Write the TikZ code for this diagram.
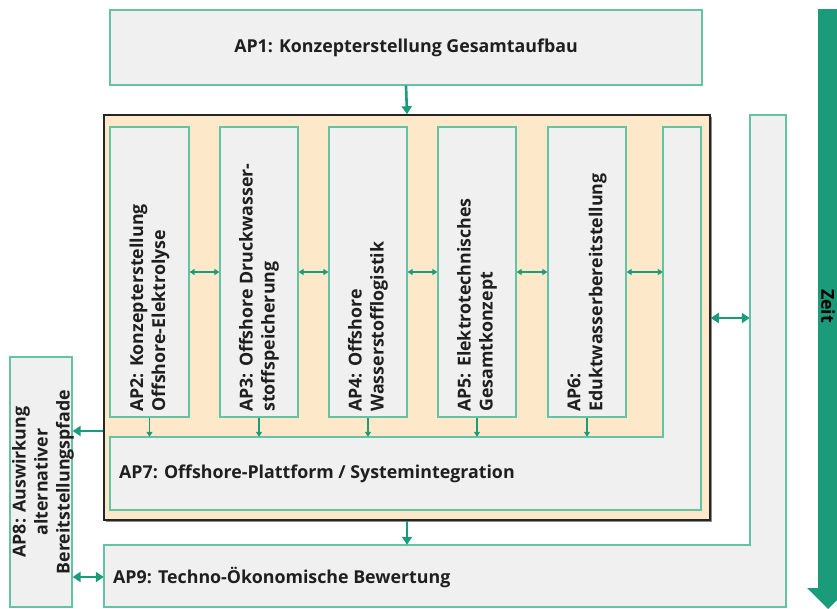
\documentclass[tikz,border=0pt]{standalone}
\usepackage{fontspec}
\setmainfont{Open Sans}
\usetikzlibrary{arrows.meta}
\definecolor{teal1}{RGB}{26,155,122}
\definecolor{bord}{RGB}{100,195,165}
\definecolor{boxfill}{RGB}{240,240,240}
\definecolor{orng}{RGB}{253,232,201}
\tikzset{
  apbox/.style={draw=bord, fill=boxfill, line width=1.3pt, inner sep=0pt},
  lbl/.style={font=\fontsize{17.8}{22}\selectfont\bfseries, text=black!88, inner sep=0pt},
  bigarr/.style={draw=teal1, line width=2.6pt, -{Triangle[width=10pt,length=8pt]}},
  bigdarr/.style={draw=teal1, line width=2.6pt, {Triangle[width=10pt,length=8pt]}-{Triangle[width=10pt,length=8pt]}},
  smallarr/.style={draw=teal1, line width=1.2pt, -{Triangle[width=6pt,length=5pt]}},
  smalldarr/.style={draw=teal1, line width=1.2pt, {Triangle[width=6pt,length=5pt]}-{Triangle[width=6pt,length=5pt]}},
}
\begin{document}
\begin{tikzpicture}[x=1pt,y=-1pt]
\useasboundingbox (0,0) rectangle (837,608);
% AP1
\node[apbox, minimum width=592, minimum height=75] (ap1) at (406,47.5) {};
\node[lbl] (t1) at (406,48) {AP1: Konzepterstellung Gesamtaufbau};
% orange frame
\fill[black!45] (106,117) rectangle (712,522);
\node[draw=black!85, fill=orng, line width=1.5pt, minimum width=606, minimum height=405, inner sep=0pt] (frame) at (407,317.5) {};
% AP2..AP6
\node[apbox, minimum width=79, minimum height=290] (ap2) at (149.5,272) {};
\node[apbox, minimum width=78, minimum height=290] (ap3) at (259,272) {};
\node[apbox, minimum width=78, minimum height=290] (ap4) at (368,272) {};
\node[apbox, minimum width=78, minimum height=290] (ap5) at (477,272) {};
\node[apbox, minimum width=78, minimum height=290] (ap6) at (587,272) {};
\node[lbl, rotate=90, anchor=west, align=left] at (149.5,412) {AP2: Konzepterstellung\\Offshore-Elektrolyse};
\node[lbl, rotate=90, anchor=west, align=left] at (259,412) {AP3: Offshore Druckwasser-\\stoffspeicherung};
\node[lbl, rotate=90, anchor=west, align=left] at (368,412) {AP4: Offshore\\Wasserstofflogistik};
\node[lbl, rotate=90, anchor=west, align=left] at (477,412) {AP5: Elektrotechnisches\\Gesamtkonzept};
\node[lbl, rotate=90, anchor=west, align=left] at (587,412) {AP6:\\Eduktwasserbereitstellung};
% AP7 L-shape
\path[apbox] (110,437) -- (663,437) -- (663,127) -- (701,127) -- (701,510) -- (110,510) -- cycle;
\node[minimum width=591, minimum height=73, inner sep=0pt] (ap7) at (405.5,473.5) {};
\node[minimum width=38, minimum height=310, inner sep=0pt] (ap7v) at (682,282) {};
\node[lbl, anchor=west] at (119,474) {AP7: Offshore-Plattform / Systemintegration};
% AP9 L-shape
\path[apbox] (104,545) -- (750,545) -- (750,115) -- (786,115) -- (786,607) -- (104,607) -- cycle;
\node[minimum width=646, minimum height=62, inner sep=0pt] (ap9) at (427,576) {};
\node[minimum width=36, minimum height=430, inner sep=0pt] (ap9v) at (768,330) {};
\node[lbl, anchor=west] at (113,577) {AP9: Techno-Ökonomische Bewertung};
% AP8
\node[apbox, minimum width=62, minimum height=250] (ap8) at (41,482) {};
\node[lbl, rotate=90, align=center] at (43,482) {AP8: Auswirkung\\alternativer\\Bereitstellungspfade};
% Zeit arrow
\fill[teal1] (818,9) -- (838,9) -- (838,588) -- (849,588) -- (828,609) -- (807,588) -- (818,588) -- cycle;
\node[lbl, rotate=-90, text=black] (zeit) at (828,306) {Zeit};
% big arrows
\draw[bigarr] (ap1.south) -- (frame.north);
\draw[bigarr] (frame.south) -- (ap9.north -| frame.south);
\draw[bigdarr] (frame.east |- 0,318) -- (ap9v.west |- 0,318);
\draw[bigarr] (frame.west |- 0,431) -- (ap8.east |- 0,431);
\draw[bigdarr] (ap8.east |- 0,577) -- (ap9.west |- 0,577);
% small arrows
\draw[smalldarr] (ap2.east) -- (ap3.west);
\draw[smalldarr] (ap3.east) -- (ap4.west);
\draw[smalldarr] (ap4.east) -- (ap5.west);
\draw[smalldarr] (ap5.east) -- (ap6.west);
\draw[smalldarr] (ap6.east) -- (ap7v.west |- ap6.east);
\foreach \n in {ap2,ap3,ap4,ap5,ap6}{
  \draw[smallarr] (\n.south) -- (\n.south |- ap7.north);
}
\end{tikzpicture}
\end{document}
